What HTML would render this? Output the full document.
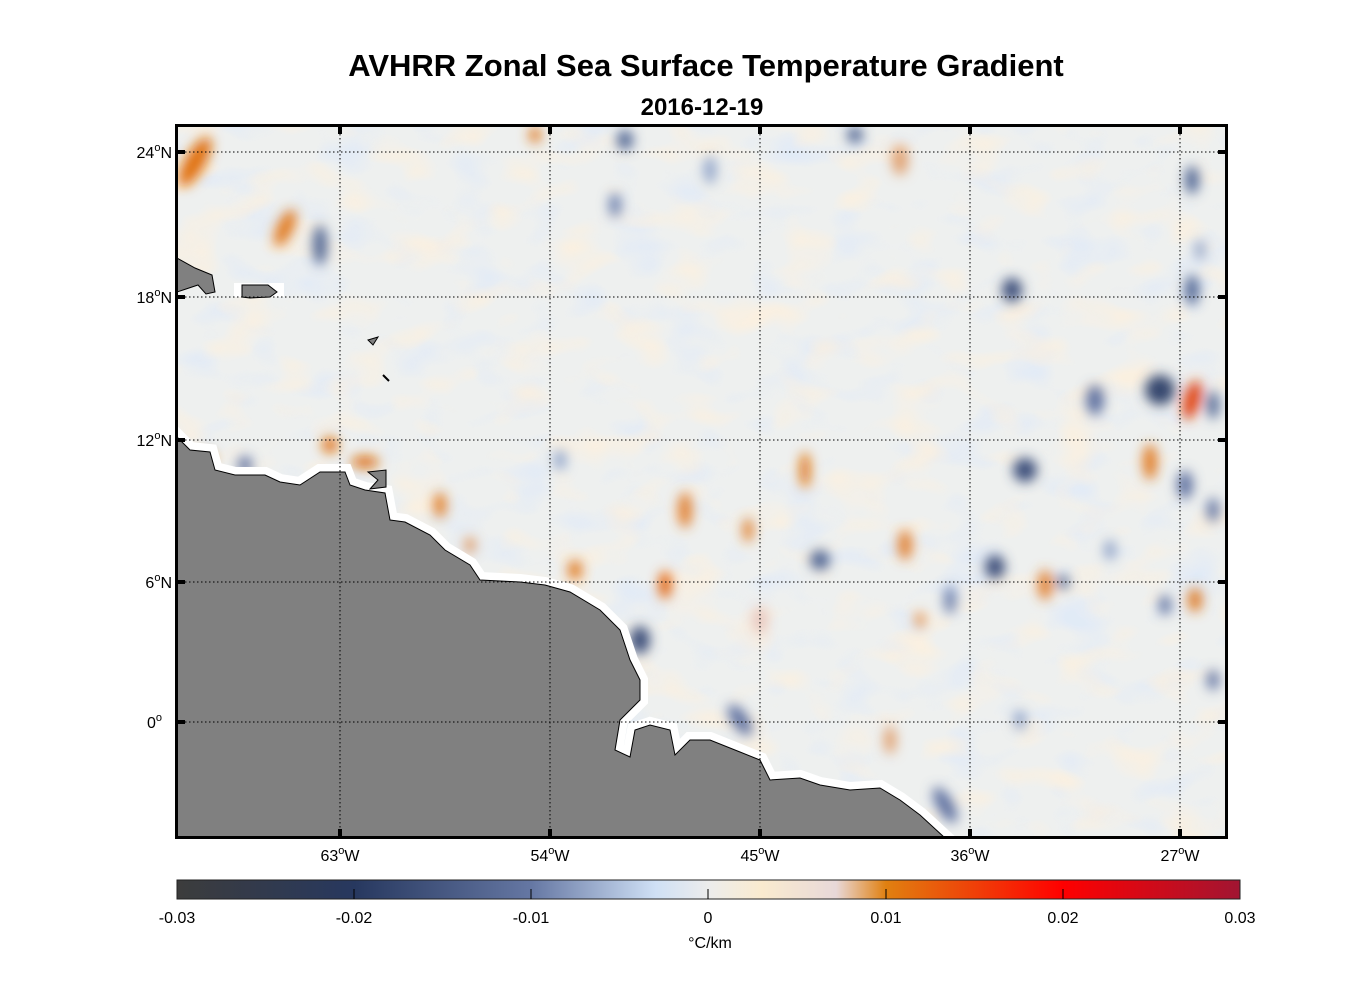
<!DOCTYPE html>
<html><head><style>
body{margin:0;background:#fff;width:1356px;height:1000px;overflow:hidden;font-family:"Liberation Sans",Arial,sans-serif}
</style></head><body>
<svg width="1356" height="1000" xmlns="http://www.w3.org/2000/svg" font-family="Liberation Sans, Arial, sans-serif">
<defs>
<filter id="b" x="-50%" y="-50%" width="200%" height="200%"><feGaussianBlur stdDeviation="6"/></filter>
<filter id="nb" x="0" y="0" width="100%" height="100%">
<feTurbulence type="fractalNoise" baseFrequency="0.018 0.03" numOctaves="2" seed="4"/>
<feColorMatrix type="matrix" values="0 0 0 0 0.74  0 0 0 0 0.82  0 0 0 0 0.94  1 0 0 0 0"/>
<feComponentTransfer><feFuncA type="linear" slope="3" intercept="-1.55"/></feComponentTransfer>
</filter>
<filter id="no" x="0" y="0" width="100%" height="100%">
<feTurbulence type="fractalNoise" baseFrequency="0.018 0.03" numOctaves="2" seed="9"/>
<feColorMatrix type="matrix" values="0 0 0 0 0.99  0 0 0 0 0.87  0 0 0 0 0.72  1 0 0 0 0"/>
<feComponentTransfer><feFuncA type="linear" slope="3" intercept="-1.55"/></feComponentTransfer>
</filter>
<clipPath id="c"><rect x="177" y="126" width="1049" height="711"/></clipPath>
<linearGradient id="cb" x1="0" x2="1">
<stop offset="0" stop-color="#3c3c3c"/><stop offset="0.167" stop-color="#27385f"/>
<stop offset="0.333" stop-color="#6577a3"/><stop offset="0.45" stop-color="#cfe0f5"/>
<stop offset="0.5" stop-color="#ececec"/><stop offset="0.55" stop-color="#faebcf"/>
<stop offset="0.62" stop-color="#e8d8d8"/><stop offset="0.667" stop-color="#e08010"/>
<stop offset="0.833" stop-color="#ff0000"/><stop offset="1" stop-color="#a11532"/>
</linearGradient>
</defs>
<text x="706" y="76" text-anchor="middle" font-size="31" font-weight="bold">AVHRR Zonal Sea Surface Temperature Gradient</text>
<text x="702" y="115" text-anchor="middle" font-size="24" font-weight="bold">2016-12-19</text>
<g clip-path="url(#c)">
<rect x="177" y="126" width="1049" height="711" fill="#eef0ef"/>
<rect x="177" y="126" width="1049" height="711" filter="url(#nb)" opacity="0.8"/>
<rect x="177" y="126" width="1049" height="711" filter="url(#no)" opacity="0.8"/>
<g filter="url(#b)">
<ellipse cx="195" cy="162" rx="10" ry="28" fill="#e07010" transform="rotate(30 195 162)"/>
<ellipse cx="285" cy="228" rx="8" ry="20" fill="#e07a20" transform="rotate(25 285 228)"/>
<ellipse cx="320" cy="245" rx="7" ry="20" fill="#4f6593"/>
<ellipse cx="625" cy="140" rx="8" ry="10" fill="#4f6593"/>
<ellipse cx="900" cy="160" rx="8" ry="15" fill="#e0a070"/>
<ellipse cx="1012" cy="290" rx="10" ry="12" fill="#3d4f7a"/>
<ellipse cx="1192" cy="180" rx="7" ry="14" fill="#4f6593"/>
<ellipse cx="1192" cy="290" rx="7" ry="15" fill="#4f6593"/>
<ellipse cx="1160" cy="390" rx="15" ry="15" fill="#34466e"/>
<ellipse cx="1192" cy="400" rx="8" ry="20" fill="#e0400a" transform="rotate(15 1192 400)"/>
<ellipse cx="1213" cy="405" rx="6" ry="14" fill="#4f6593"/>
<ellipse cx="1095" cy="400" rx="9" ry="15" fill="#5e71a0"/>
<ellipse cx="1150" cy="462" rx="7" ry="18" fill="#e07a20"/>
<ellipse cx="1025" cy="470" rx="12" ry="12" fill="#3d4f7a"/>
<ellipse cx="1185" cy="485" rx="8" ry="14" fill="#5e71a0"/>
<ellipse cx="1213" cy="510" rx="6" ry="12" fill="#5e71a0"/>
<ellipse cx="995" cy="567" rx="10" ry="12" fill="#3d4f7a"/>
<ellipse cx="1045" cy="585" rx="7" ry="15" fill="#e08030"/>
<ellipse cx="1063" cy="582" rx="6" ry="7" fill="#4f6593"/>
<ellipse cx="1195" cy="600" rx="7" ry="12" fill="#e07a20"/>
<ellipse cx="1165" cy="605" rx="6" ry="10" fill="#5e71a0"/>
<ellipse cx="1213" cy="680" rx="6" ry="10" fill="#5e71a0"/>
<ellipse cx="905" cy="545" rx="7" ry="15" fill="#e08030"/>
<ellipse cx="805" cy="470" rx="5" ry="18" fill="#e07010"/>
<ellipse cx="685" cy="510" rx="7" ry="18" fill="#e08030"/>
<ellipse cx="748" cy="530" rx="5" ry="12" fill="#e07a20"/>
<ellipse cx="665" cy="585" rx="6" ry="14" fill="#e05a00"/>
<ellipse cx="820" cy="560" rx="10" ry="10" fill="#4f6593"/>
<ellipse cx="640" cy="640" rx="10" ry="14" fill="#3d4f7a"/>
<ellipse cx="575" cy="570" rx="7" ry="10" fill="#e07a20"/>
<ellipse cx="440" cy="505" rx="6" ry="13" fill="#e07a20"/>
<ellipse cx="330" cy="445" rx="8" ry="8" fill="#e07010"/>
<ellipse cx="365" cy="462" rx="14" ry="6" fill="#e07010"/>
<ellipse cx="205" cy="458" rx="10" ry="6" fill="#e07a20"/>
<ellipse cx="245" cy="465" rx="7" ry="9" fill="#5e71a0"/>
<ellipse cx="740" cy="720" rx="8" ry="18" fill="#5e71a0" transform="rotate(-35 740 720)"/>
<ellipse cx="945" cy="805" rx="8" ry="20" fill="#5e71a0" transform="rotate(-30 945 805)"/>
<ellipse cx="950" cy="600" rx="6" ry="14" fill="#6a7eac"/>
<ellipse cx="855" cy="135" rx="8" ry="8" fill="#4f6593"/>
<ellipse cx="535" cy="135" rx="6" ry="8" fill="#e07a20"/>
<ellipse cx="560" cy="460" rx="6" ry="10" fill="#8ea2c8"/>
<ellipse cx="470" cy="545" rx="5" ry="8" fill="#e09050"/>
<ellipse cx="920" cy="620" rx="5" ry="8" fill="#e09050"/>
<ellipse cx="760" cy="620" rx="8" ry="14" fill="#e8c8c0"/>
<ellipse cx="710" cy="170" rx="6" ry="14" fill="#8ea2c8"/>
<ellipse cx="615" cy="205" rx="6" ry="12" fill="#6a7eac"/>
<ellipse cx="1200" cy="250" rx="5" ry="10" fill="#8ea2c8"/>
<ellipse cx="1110" cy="550" rx="6" ry="10" fill="#8ea2c8"/>
<ellipse cx="890" cy="740" rx="6" ry="14" fill="#e0a070"/>
<ellipse cx="1020" cy="720" rx="6" ry="10" fill="#8ea2c8"/>
</g>
<path d="M177,437 L190,450 L210,452 L215,470 L235,475 L265,475 L280,482 L300,485 L320,472 L345,472 L350,485 L365,490 L385,493 L390,520 L405,522 L430,535 L445,550 L470,565 L480,580 L520,582 L545,585 L570,592 L600,610 L620,630 L630,660 L640,680 L640,700 L620,720 L615,750 L630,757 L635,730 L650,725 L670,730 L675,755 L690,740 L710,740 L740,752 L760,760 L770,780 L800,778 L820,785 L850,790 L880,788 L900,800 L920,815 L945,838 L177,838 Z" fill="#fff" stroke="#fff" stroke-width="16"/>
<path d="M177,437 L190,450 L210,452 L215,470 L235,475 L265,475 L280,482 L300,485 L320,472 L345,472 L350,485 L365,490 L385,493 L390,520 L405,522 L430,535 L445,550 L470,565 L480,580 L520,582 L545,585 L570,592 L600,610 L620,630 L630,660 L640,680 L640,700 L620,720 L615,750 L630,757 L635,730 L650,725 L670,730 L675,755 L690,740 L710,740 L740,752 L760,760 L770,780 L800,778 L820,785 L850,790 L880,788 L900,800 L920,815 L945,838 L177,838 Z" fill="#808080" stroke="#000" stroke-width="1"/>
<path d="M177,258 L195,268 L212,275 L215,292 L206,294 L198,285 L183,290 L177,292 Z" fill="#808080" stroke="#000" stroke-width="1"/>
<rect x="234" y="283" width="50" height="14" fill="#fff"/>
<path d="M242,285 L268,285 L277,292 L270,297 L250,298 L242,297 Z" fill="#808080" stroke="#000" stroke-width="1"/>
<path d="M368,340 L378,337 L373,345 Z" fill="#808080" stroke="#000"/>
<path d="M383,375 L389,381" stroke="#000" stroke-width="2"/>
<path d="M368,472 L386,470 L386,487 L370,489 L378,480 Z" fill="#808080" stroke="#000"/>
<g stroke="#000" stroke-width="1" stroke-dasharray="1.5,2.5" fill="none">
<path d="M340,126V838M550,126V838M760,126V838M970,126V838M1180,126V838"/>
<path d="M177,152H1226M177,297H1226M177,440H1226M177,582H1226M177,722H1226"/>
</g>
</g>
<rect x="176.5" y="125.5" width="1050" height="712" fill="none" stroke="#000" stroke-width="3"/>
<g stroke="#000" stroke-width="4">
<path d="M340,126v8M550,126v8M760,126v8M970,126v8M1180,126v8M340,837v-8M550,837v-8M760,837v-8M970,837v-8M1180,837v-8"/>
<path d="M177,152h8M177,297h8M177,440h8M177,582h8M177,722h8M1226,152h-8M1226,297h-8M1226,440h-8M1226,582h-8M1226,722h-8"/>
</g>
<g font-size="16" text-anchor="end">
<text x="172" y="158">24<tspan dy="-7" font-size="11">o</tspan><tspan dy="7">N</tspan></text>
<text x="172" y="303">18<tspan dy="-7" font-size="11">o</tspan><tspan dy="7">N</tspan></text>
<text x="172" y="446">12<tspan dy="-7" font-size="11">o</tspan><tspan dy="7">N</tspan></text>
<text x="172" y="588">6<tspan dy="-7" font-size="11">o</tspan><tspan dy="7">N</tspan></text>
<text x="162" y="728">0<tspan dy="-7" font-size="11">o</tspan></text>
</g>
<g font-size="16" text-anchor="middle">
<text x="340" y="861">63<tspan dy="-7" font-size="11">o</tspan><tspan dy="7">W</tspan></text>
<text x="550" y="861">54<tspan dy="-7" font-size="11">o</tspan><tspan dy="7">W</tspan></text>
<text x="760" y="861">45<tspan dy="-7" font-size="11">o</tspan><tspan dy="7">W</tspan></text>
<text x="970" y="861">36<tspan dy="-7" font-size="11">o</tspan><tspan dy="7">W</tspan></text>
<text x="1180" y="861">27<tspan dy="-7" font-size="11">o</tspan><tspan dy="7">W</tspan></text>
</g>
<rect x="177" y="880" width="1063" height="19" fill="url(#cb)" stroke="#222" stroke-width="1"/>
<g stroke="#000" stroke-width="1"><path d="M354,889v10M531,889v10M708,889v10M886,889v10M1063,889v10"/></g>
<g font-size="16" text-anchor="middle">
<text x="177" y="923">-0.03</text><text x="354" y="923">-0.02</text><text x="531" y="923">-0.01</text>
<text x="708" y="923">0</text><text x="886" y="923">0.01</text><text x="1063" y="923">0.02</text><text x="1240" y="923">0.03</text>
<text x="710" y="948">°C/km</text>
</g>
</svg>
</body></html>
